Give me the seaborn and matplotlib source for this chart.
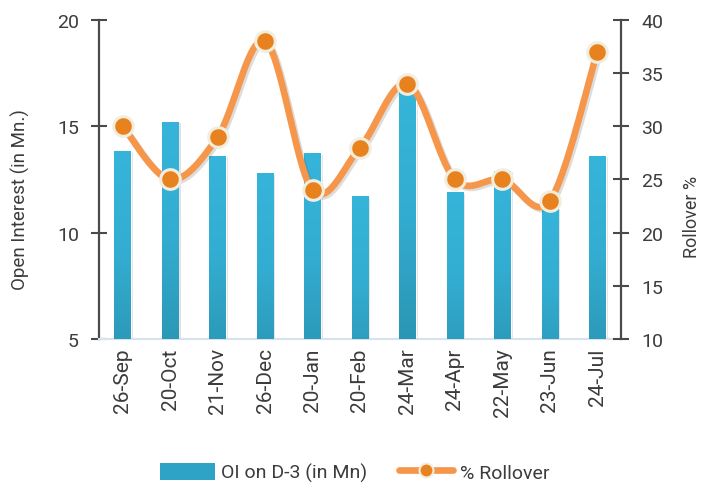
import numpy as np
import pandas as pd
import matplotlib
matplotlib.use("Agg")
import matplotlib.pyplot as plt
import matplotlib.patheffects as pe
from matplotlib.lines import Line2D
from matplotlib.patches import Patch
import seaborn as sns

months = ["26-Sep", "20-Oct", "21-Nov", "26-Dec", "20-Jan", "20-Feb",
          "24-Mar", "24-Apr", "22-May", "23-Jun", "24-Jul"]
oi_values = [13.8, 15.2, 13.6, 12.8, 13.7, 11.7, 16.9, 11.9, 12.9, 11.2, 13.6]
rollover_pct = [30, 25, 29, 38, 24, 28, 34, 25, 25, 23, 37]
left_ticks = [5, 10, 15, 20]
right_ticks = [10, 15, 20, 25, 30, 35, 40]

sns.set_theme(style="white")
plt.rcParams["font.family"] = ["Roboto", "DejaVu Sans"]

TXT = "#3c3c3c"
SPINE = "#4a4a4a"
BAR_TOP = "#36b4d9"
BAR_BOT = "#23839c"
LINE_C = "#f5964a"
MARK_C = "#e8821e"
MARK_E = "#f2eedf"

fig = plt.figure(figsize=(7.01, 4.85), dpi=100)
ax = fig.add_axes([0.1412, 0.2990, 0.8859 - 0.1412, 0.9567 - 0.2990])

df = pd.DataFrame({"month": months, "oi": oi_values, "roll": rollover_pct})
sns.barplot(data=df, x="month", y="oi", ax=ax, width=0.35, color=BAR_BOT,
            saturation=1, zorder=2)

# gradient fill for each bar
grad = np.linspace(0, 1, 256).reshape(-1, 1)
cmap = matplotlib.colors.LinearSegmentedColormap.from_list(
    "g", [BAR_TOP, "#33aed2", "#2c98b7", BAR_BOT])
for p in ax.patches:
    x0, y0 = p.get_x(), p.get_y()
    w, h = p.get_width(), p.get_height()
    p.set_path_effects([pe.SimplePatchShadow(offset=(1.5, -1.0), alpha=0.18,
                                             shadow_rgbFace="#555555"),
                        pe.Normal()])
    ax.imshow(grad, extent=[x0, x0 + w, y0, y0 + h], origin="upper",
              cmap=cmap, aspect="auto", zorder=3)

ax.set_xlim(-0.5, len(months) - 0.5)
ax.set_ylim(5, 20)
ax.set_yticks(left_ticks)
ax.set_xlabel("")
ax.set_ylabel("Open Interest (in Mn.)", fontsize=13.5, color=TXT)
ax.yaxis.set_label_coords(-0.133, 0.44)
ax.tick_params(axis="y", direction="inout", length=11, width=1.5,
               color=SPINE, labelsize=14, labelcolor=TXT, pad=9, left=True)
ax.tick_params(axis="x", length=0, labelsize=15, labelcolor=TXT, pad=6,
               labelrotation=90)

for s in ["top", "right"]:
    ax.spines[s].set_visible(False)
ax.spines["left"].set_color(SPINE)
ax.spines["left"].set_linewidth(1.6)
ax.spines["bottom"].set_color("#d5e3f0")
ax.spines["bottom"].set_linewidth(1.5)

# right axis with smoothed rollover line (Catmull-Rom through data points)
ax2 = ax.twinx()
xi = np.arange(len(rollover_pct), dtype=float)
yi = np.array(rollover_pct, dtype=float)
xs, ys = [], []
n = len(xi)
for i in range(n - 1):
    p0 = yi[max(i - 1, 0)]
    p1 = yi[i]
    p2 = yi[i + 1]
    p3 = yi[min(i + 2, n - 1)]
    x0 = xi[max(i - 1, 0)]
    x3 = xi[min(i + 2, n - 1)]
    t = np.linspace(0, 1, 30, endpoint=(i == n - 2))
    t2, t3 = t * t, t * t * t
    yy = 0.5 * ((2 * p1) + (-p0 + p2) * t + (2 * p0 - 5 * p1 + 4 * p2 - p3) * t2
                + (-p0 + 3 * p1 - 3 * p2 + p3) * t3)
    q0, q1, q2, q3 = x0, xi[i], xi[i + 1], x3
    xx = 0.5 * ((2 * q1) + (-q0 + q2) * t + (2 * q0 - 5 * q1 + 4 * q2 - q3) * t2
                + (-q0 + 3 * q1 - 3 * q2 + q3) * t3)
    xs.extend(xx)
    ys.extend(yy)

curve = pd.DataFrame({"x": xs, "y": ys, "k": np.arange(len(xs))})
sns.lineplot(data=curve, x="x", y="y", ax=ax2, sort=False, estimator=None,
             color=LINE_C, linewidth=4.8, solid_capstyle="round",
             path_effects=[pe.SimpleLineShadow(offset=(1.5, -1.5), alpha=0.2,
                                               shadow_color="#555555"),
                           pe.Normal()])
sns.scatterplot(x=xi, y=yi, ax=ax2, s=200, color=MARK_C, edgecolor=MARK_E,
                linewidth=2.2, zorder=5)

ax2.set_xlim(-0.5, len(months) - 0.5)
ax2.set_ylim(10, 40)
ax2.set_yticks(right_ticks)
ax2.set_ylabel("Rollover %", fontsize=13, color=TXT)
ax2.yaxis.set_label_coords(1.118, 0.385)
ax2.tick_params(axis="y", direction="inout", length=11, width=1.5,
                color=SPINE, labelsize=14, labelcolor=TXT, pad=9, right=True)
for s in ["top", "left", "bottom"]:
    ax2.spines[s].set_visible(False)
ax2.spines["right"].set_color(SPINE)
ax2.spines["right"].set_linewidth(1.6)
ax2.grid(False)
ax.grid(False)

handles = [
    Patch(facecolor="#2fa3c6", edgecolor="none"),
    Line2D([0], [0], color=LINE_C, linewidth=4.8, marker="o", markersize=10,
           markerfacecolor=MARK_C, markeredgecolor=MARK_E, markeredgewidth=1.5),
]
fig.legend(handles, ["OI on D-3 (in Mn)", "% Rollover"], loc="center",
           bbox_to_anchor=(0.506, 0.024), ncol=2, frameon=False,
           fontsize=14, labelcolor=TXT, handlelength=2.8, handleheight=1.0,
           handletextpad=0.35, columnspacing=1.6)

fig.savefig("out.png", dpi=100)
